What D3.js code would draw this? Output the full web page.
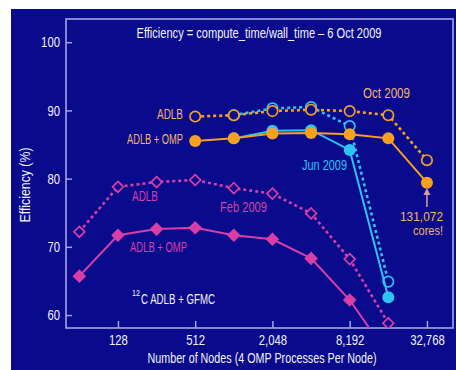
<!DOCTYPE html>
<html>
<head>
<meta charset="utf-8">
<script src="https://cdn.jsdelivr.net/npm/d3@7"></script>
<style>
  html, body { margin: 0; padding: 0; background: #ffffff; }
  svg { display: block; }
  text { font-family: "Liberation Sans", Arial, sans-serif; }
</style>
</head>
<body>
<svg id="chart" width="456" height="370"></svg>
<script>
// ---- data ----
const xTicks = [128, 512, 2048, 8192, 32768];
const xTickLabels = ["128", "512", "2,048", "8,192", "32,768"];
const yTicks = [60, 70, 80, 90, 100];

const febNodes = [64, 128, 256, 512, 1024, 2048, 4096, 8192, 16384];
const febADLB  = [72.2, 78.8, 79.5, 79.8, 78.6, 77.8, 74.9, 68.2, 58.8];
const febOMP   = [65.7, 71.7, 72.6, 72.8, 71.7, 71.1, 68.3, 62.2, 54.1];

const junNodes = [1024, 2048, 4096, 8192, 16384];
const junADLB  = [89.3, 90.3, 90.5, 87.7, 64.9];
const junOMP   = [85.9, 87.0, 87.1, 84.2, 62.6];

const octNodes = [512, 1024, 2048, 4096, 8192, 16384, 32768];
const octADLB  = [89.1, 89.3, 89.9, 90.1, 89.9, 89.3, 82.7];
const octOMP   = [85.5, 85.9, 86.6, 86.7, 86.5, 85.9, 79.4];

// ---- styling ----
const BG = "#0a0a8c";
const FRAME = "#a4a4e4";
const ORANGE = "#f7a11e";
const ORANGE_TXT = "#f4b36a";
const CYAN = "#2ec3f2";
const MAGENTA = "#d93ea6";
const WHITE = "#f2f2f8";
const SQUEEZE = 0.78;

const svg = d3.select("#chart");
svg.append("rect").attr("x", 11).attr("y", 9).attr("width", 445).attr("height", 361).attr("fill", BG);

const L = 66, R = 453, T = 19, B = 328;
const x = d3.scaleLog().base(2).domain([50.4, 52300]).range([L, R]);
const y = d3.scaleLinear().domain([58.1, 103.4]).range([B, T]);

svg.append("defs").append("clipPath").attr("id", "plotclip")
  .append("rect").attr("x", L).attr("y", T).attr("width", R - L).attr("height", B - T);

function squeeze(sel, width) {
  sel.each(function () {
    const w = width != null ? width : this.getComputedTextLength() * SQUEEZE;
    d3.select(this).attr("textLength", w).attr("lengthAdjust", "spacingAndGlyphs");
  });
  return sel;
}

// frame
svg.append("rect").attr("x", L).attr("y", T).attr("width", R - L).attr("height", B - T)
  .attr("fill", "none").attr("stroke", FRAME).attr("stroke-width", 1.6);

// axes
const yAxis = d3.axisLeft(y).tickValues(yTicks).tickSizeInner(-6).tickSizeOuter(0).tickPadding(6);
const gy = svg.append("g").attr("transform", `translate(${L},0)`).call(yAxis);
gy.select(".domain").remove();
gy.selectAll("line").attr("stroke", FRAME).attr("stroke-width", 1.5);
gy.selectAll("text").attr("fill", WHITE).attr("font-size", 14.5).attr("font-family", null);
squeeze(gy.selectAll("text"));

const xAxis = d3.axisBottom(x).tickValues(xTicks).tickFormat((d, i) => xTickLabels[i])
  .tickSizeInner(-7).tickSizeOuter(0).tickPadding(7);
const gx = svg.append("g").attr("transform", `translate(0,${B})`).call(xAxis);
gx.select(".domain").remove();
gx.selectAll("line").attr("stroke", FRAME).attr("stroke-width", 1.5);
gx.selectAll("text").attr("fill", WHITE).attr("font-size", 14.5).attr("font-family", null);
squeeze(gx.selectAll("text"));

// axis titles
squeeze(svg.append("text").attr("x", 262).attr("y", 363).attr("text-anchor", "middle")
  .attr("fill", WHITE).attr("font-size", 14).text("Number of Nodes (4 OMP Processes Per Node)"), 229);
squeeze(svg.append("text").attr("transform", "translate(30,185) rotate(-90)").attr("text-anchor", "middle")
  .attr("fill", WHITE).attr("font-size", 14).text("Efficiency (%)"), 75);

// title
squeeze(svg.append("text").attr("x", 259).attr("y", 38).attr("text-anchor", "middle")
  .attr("fill", WHITE).attr("font-size", 14).text("Efficiency = compute_time/wall_time \u2013 6 Oct 2009"), 245);

const plot = svg.append("g").attr("clip-path", "url(#plotclip)");
const line = d3.line().x(d => x(d[0])).y(d => y(d[1]));
const zip = (xs, ys) => xs.map((v, i) => [v, ys[i]]);

function series(nodes, vals, color, dashed, marker, filled) {
  const pts = zip(nodes, vals);
  plot.append("path").datum(pts).attr("d", line).attr("fill", "none")
    .attr("stroke", color).attr("stroke-width", dashed ? 2.6 : 2)
    .attr("stroke-dasharray", dashed ? "3,3" : null);
  const g = plot.append("g");
  if (marker === "circle") {
    g.selectAll("circle").data(pts).join("circle")
      .attr("cx", d => x(d[0])).attr("cy", d => y(d[1]))
      .attr("r", filled ? 6 : 5.2)
      .attr("fill", filled ? color : BG)
      .attr("stroke", color).attr("stroke-width", filled ? 0 : 1.7);
  } else {
    const s = filled ? 6.8 : 5.4;
    g.selectAll("path").data(pts).join("path")
      .attr("d", d => {
        const cx = x(d[0]), cy = y(d[1]);
        return `M${cx},${cy - s}L${cx + s},${cy}L${cx},${cy + s}L${cx - s},${cy}Z`;
      })
      .attr("fill", filled ? color : BG)
      .attr("stroke", color).attr("stroke-width", filled ? 0 : 1.7);
  }
}

series(febNodes, febADLB, MAGENTA, true, "diamond", false);
series(febNodes, febOMP, MAGENTA, false, "diamond", true);
series(junNodes, junADLB, CYAN, true, "circle", false);
series(junNodes, junOMP, CYAN, false, "circle", true);
series(octNodes, octADLB, ORANGE, true, "circle", false);
series(octNodes, octOMP, ORANGE, false, "circle", true);

// annotations
function label(tx, ty, txt, color, anchor, w, fs) {
  const t = svg.append("text").attr("x", tx).attr("y", ty).attr("text-anchor", anchor || "start")
    .attr("fill", color).attr("font-size", fs || 14).text(txt);
  return squeeze(t, w);
}
label(410, 98, "Oct 2009", ORANGE_TXT, "end", 47);
label(183, 119, "ADLB", ORANGE_TXT, "end", 26);
label(183, 144, "ADLB + OMP", ORANGE_TXT, "end", 56);
label(347, 170, "Jun 2009", CYAN, "end", 45);
label(132, 201, "ADLB", MAGENTA, "start", 26);
label(220, 212, "Feb 2009", MAGENTA, "start", 47);
label(130, 252, "ADLB + OMP", MAGENTA, "start", 57);
label(443, 221, "131,072", ORANGE_TXT, "end", 43, 12.5);
label(443, 235, "cores!", ORANGE_TXT, "end", 30, 12.5);

// 12C label: superscript as its own text so the boxes sit side by side
label(132, 296, "12", WHITE, "start", 8, 9);
label(141, 304, "C ADLB + GFMC", WHITE, "start", 74);

// arrow under the 131,072-core point
const ax = x(32768);
svg.append("line").attr("x1", ax).attr("x2", ax).attr("y1", 207).attr("y2", 193)
  .attr("stroke", "#d99aa8").attr("stroke-width", 1.5);
svg.append("path").attr("d", `M${ax - 3.5},${195}L${ax},${188}L${ax + 3.5},${195}Z`).attr("fill", "#d99aa8");
</script>
</body>
</html>
